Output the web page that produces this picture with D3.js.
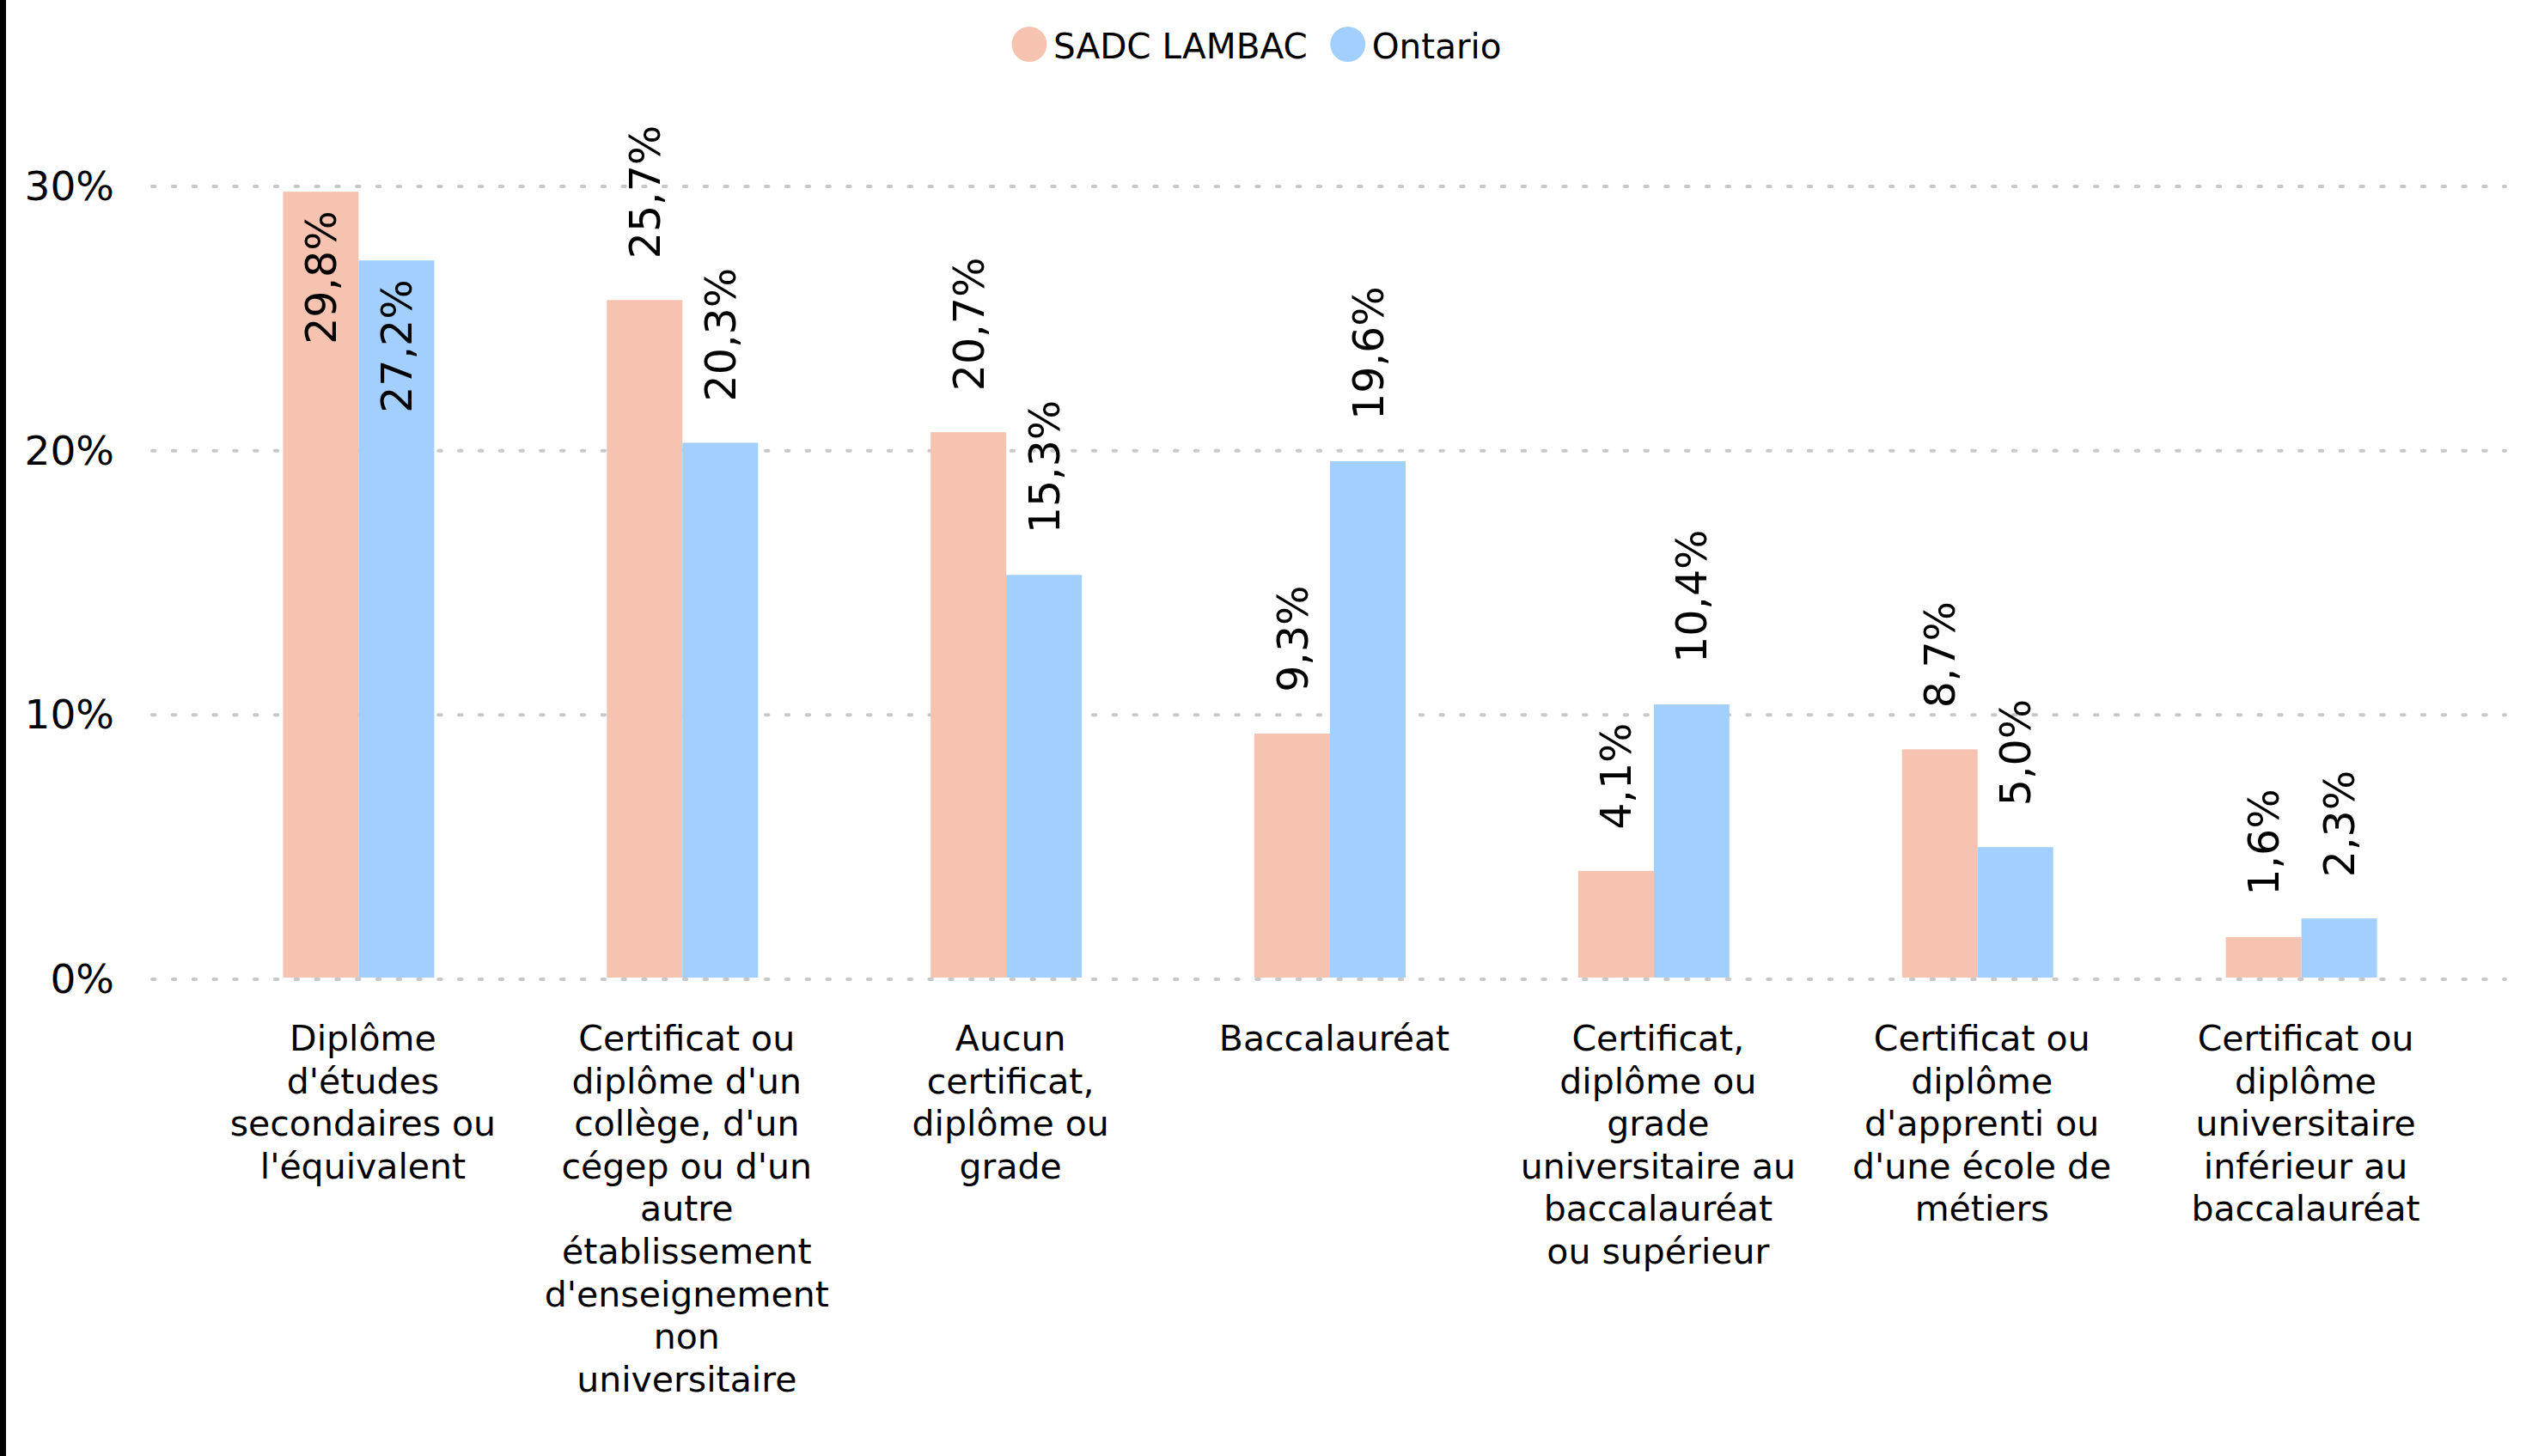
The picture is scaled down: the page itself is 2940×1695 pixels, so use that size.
<!DOCTYPE html>
<html>
<head>
<meta charset="utf-8">
<script src="https://cdn.jsdelivr.net/npm/d3@7"></script>
<style>
  html, body { margin: 0; padding: 0; background: #fff; }
  svg { display: block; font-family: "DejaVu Sans", Verdana, sans-serif; }
</style>
</head>
<body>
<svg id="chart" width="2940" height="1695"></svg>
<script>
// ---- Data ----
const categories = [
  "Diplôme\nd'études\nsecondaires ou\nl'équivalent",
  "Certificat ou\ndiplôme d'un\ncollège, d'un\ncégep ou d'un\nautre\nétablissement\nd'enseignement\nnon\nuniversitaire",
  "Aucun\ncertificat,\ndiplôme ou\ngrade",
  "Baccalauréat",
  "Certificat,\ndiplôme ou\ngrade\nuniversitaire au\nbaccalauréat\nou supérieur",
  "Certificat ou\ndiplôme\nd'apprenti ou\nd'une école de\nmétiers",
  "Certificat ou\ndiplôme\nuniversitaire\ninférieur au\nbaccalauréat"
];
const seriesNames = ["SADC LAMBAC", "Ontario"];
const sadcValues = [29.8, 25.7, 20.7, 9.3, 4.1, 8.7, 1.6];
const ontarioValues = [27.2, 20.3, 15.3, 19.6, 10.4, 5.0, 2.3];
const yTicks = [0, 10, 20, 30];
const seriesColors = ["#F5C3AF", "#A2CFFE"];

const seriesValues = [sadcValues, ontarioValues];

// ---- Setup ----
const svg = d3.select("#chart");
const W = 2940, H = 1695;

const locale = d3.formatLocale({decimal: ",", thousands: " ", grouping: [3], currency: ["", "$"]});
const fmtVal = v => locale.format(".1f")(v) + "%";
const fmtTick = v => locale.format("d")(v) + "%";

const y = d3.scaleLinear().domain([0, 30]).range([1140, 217]);
const x0 = d3.scaleBand().domain(d3.range(categories.length))
  .range([229, 2867]).paddingInner(0.533).paddingOuter(0.2665);
const x1 = d3.scaleBand().domain(d3.range(seriesNames.length)).range([0, x0.bandwidth()]);

// left black border
svg.append("rect").attr("x", 0).attr("y", 0).attr("width", 7).attr("height", H).attr("fill", "#000");

// gridlines
const grid = svg.append("g");
grid.selectAll("line").data(yTicks).join("line")
  .attr("x1", 177).attr("x2", 2916)
  .attr("y1", d => y(d)).attr("y2", d => y(d))
  .attr("stroke", "#c8c8c8").attr("stroke-width", 4)
  .attr("stroke-linecap", "round").attr("stroke-dasharray", "3.5,20.3");

// y tick labels
svg.append("g").selectAll("text").data(yTicks).join("text")
  .attr("x", 133).attr("y", d => y(d) + 16)
  .attr("text-anchor", "end").attr("font-size", 47).attr("fill", "#000")
  .text(fmtTick);

// bars
const data = [];
categories.forEach((c, i) => {
  seriesValues.forEach((vals, s) => data.push({i, s, v: vals[i]}));
});

svg.append("g").selectAll("rect").data(data).join("rect")
  .attr("x", d => x0(d.i) + x1(d.s))
  .attr("y", d => y(d.v))
  .attr("width", x1.bandwidth())
  .attr("height", d => y(0) - 2 - y(d.v))
  .attr("fill", d => seriesColors[d.s]);

// value labels
const labels = svg.append("g").selectAll("text").data(data).join("text")
  .attr("font-size", 49).attr("fill", "#000")
  .attr("dy", "0.36em")
  .text(d => fmtVal(d.v));

labels.each(function(d) {
  const t = d3.select(this);
  const len = this.getComputedTextLength();
  const cx = x0(d.i) + x1(d.s) + x1.bandwidth() / 2;
  const top = y(d.v);
  let yy, anchor;
  if (top - 48 - len < 125) { yy = top + 22; anchor = "end"; }
  else { yy = top - 48; anchor = "start"; }
  t.attr("text-anchor", anchor)
   .attr("transform", `translate(${cx},${yy}) rotate(-90)`);
});

// category labels
const cat = svg.append("g").selectAll("text").data(categories).join("text")
  .attr("text-anchor", "middle").attr("font-size", 41).attr("fill", "#000");
cat.each(function(d, i) {
  const t = d3.select(this);
  const cx = x0(i) + x0.bandwidth() / 2 + 5;
  d.split("\n").forEach((line, k) => {
    t.append("tspan").attr("x", cx).attr("y", 1223 + k * 49.6).text(line);
  });
});

// legend
const legend = svg.append("g");
let lx = 1198;
seriesNames.forEach((name, s) => {
  legend.append("circle").attr("cx", lx).attr("cy", 51.5).attr("r", 20.5).attr("fill", seriesColors[s]);
  const t = legend.append("text").attr("x", lx + 28).attr("y", 68)
    .attr("font-size", 40.5).attr("fill", "#000").text(name);
  lx = lx + 28 + t.node().getComputedTextLength() + 47;
});
</script>
</body>
</html>
